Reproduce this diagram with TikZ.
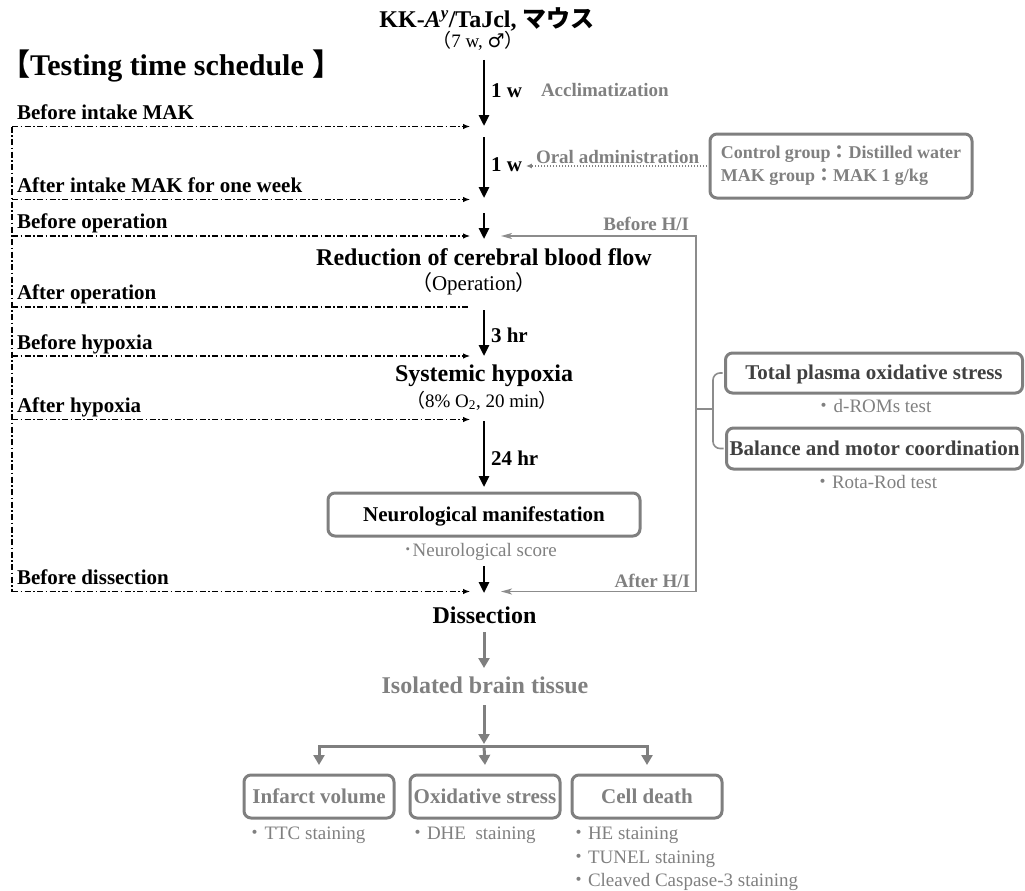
\documentclass[tikz,border=0pt]{standalone}
\usepackage{fontspec}
\setmainfont{Liberation Serif}
\newfontfamily\cjk{Noto Sans CJK JP}
\newfontfamily\symfont{DejaVu Sans}
\usetikzlibrary{arrows.meta}

\definecolor{boxgray}{RGB}{127,127,127}
\definecolor{txtgray}{RGB}{128,128,128}
\definecolor{linegray}{RGB}{140,140,140}
\definecolor{deepgray}{RGB}{64,64,64}

\newcommand{\fs}[2]{\fontsize{#1}{#2}\selectfont}

\tikzset{
  hitip/.tip={Stealth[length=11pt,width=6pt,inset=3pt]},
  gtip/.tip={Triangle[length=10pt,width=11pt]},
  every node/.style={inner sep=0pt, outer sep=0pt},
  lbl/.style={anchor=base west, font=\fs{21}{24}\bfseries},
  stage/.style={anchor=base, font=\fs{24}{28}\bfseries},
  dur/.style={anchor=base west, font=\fs{21}{24}\bfseries},
  gnote/.style={font=\fs{19}{22}\bfseries, text=txtgray},
  subnote/.style={font=\fs{19}{22}, text=txtgray},
  rbox/.style={draw=boxgray, line width=3pt, rounded corners=7pt,
    font=\fs{21}{24}\bfseries, text height=14pt, text depth=1pt},
  mainarrow/.style={line width=2.6pt, -{Triangle[length=11pt,width=10pt]}},
  timeline/.style={line width=1.1pt, dash pattern=on 6pt off 2.5pt on 1.5pt off 2.5pt},
  timearrow/.style={timeline, -{Latex[length=7pt,width=5.5pt]}},
  hiline/.style={draw=linegray, line width=1.6pt},
  gline/.style={draw=boxgray, line width=3pt},
  garrow/.style={gline, -{gtip}},
}

\begin{document}
\begin{tikzpicture}[x=1pt,y=-1pt]
\useasboundingbox (0,0) rectangle (1025,891);

% ---------- header ----------
\node[anchor=base, font=\fs{24}{28}\bfseries] (title) at (487,28)
  {KK-\textit{A}\textsuperscript{\textit{y}}/TaJcl, {\cjk\bfseries マウス}};
\node[anchor=base, font=\fs{19}{22}] (age) at (478,48)
  {{\cjk （}7 w, {\symfont ♂}{\cjk ）}};
\node[anchor=base west, font=\fs{30}{34}\bfseries] (sched) at (0,75)
  {{\cjk\bfseries 【}Testing time schedule\hspace{9pt}{\cjk\bfseries 】}};

% ---------- time points on the left ----------
\node[lbl] (l1) at (17,119)   {Before intake MAK};
\node[lbl] (l2) at (17,192)   {After intake MAK for one week};
\node[lbl] (l3) at (17,228.5) {Before operation};
\node[lbl] (l4) at (17,299.5) {After operation};
\node[lbl] (l5) at (17,349.5) {Before hypoxia};
\node[lbl] (l6) at (17,412.5) {After hypoxia};
\node[lbl] (l7) at (17,584.5) {Before dissection};

\foreach \n/\y in {1/126.5,2/199.5,3/236,4/307,5/356,6/419.5,7/591.5}{
  \coordinate (ts\n) at (12,\y);
  \coordinate (te\n) at (470,\y);
}
\draw[timeline] (ts1) -- (ts7);
\foreach \n in {1,2,3,5,6,7}{ \draw[timearrow] (ts\n) -- (te\n); }
\draw[timeline] (ts4) -- ([xshift=-2pt]te4);

% ---------- main time axis ----------
\coordinate (m1a) at (484,60);  \coordinate (m1b) at (484,126);
\coordinate (m2a) at (484,137); \coordinate (m2b) at (484,198);
\coordinate (m3a) at (484,213); \coordinate (m3b) at (484,239);
\coordinate (m4a) at (484,310); \coordinate (m4b) at (484,356);
\coordinate (m5a) at (484,421); \coordinate (m5b) at (484,487);
\coordinate (m6a) at (484,566); \coordinate (m6b) at (484,593);
\foreach \n in {1,...,6}{ \draw[mainarrow] (m\n a) -- (m\n b); }

\node[dur] (w1) at (491,97)    {1 w};
\node[dur] (w2) at (491,171.5) {1 w};
\node[dur] (h3) at (491,342)   {3 hr};
\node[dur] (h24) at (491,465)  {24 hr};

\node[gnote, anchor=base west] (accl) at (541,96) {Acclimatization};
\node[gnote, anchor=base west] (oral) at (536,163) {Oral administration};

\node[draw=boxgray, line width=3pt, rounded corners=7pt, minimum width=262pt,
      minimum height=64pt, align=left, font=\fs{18}{23}\bfseries, text=txtgray]
  (ctrl) at (841,166)
  {Control group{\cjk\bfseries ：}Distilled water\\MAK group{\cjk\bfseries ：}MAK 1 g/kg};
\draw[draw=txtgray, line width=1.6pt, dash pattern=on 1.5pt off 1.5pt,
      -{Latex[length=6pt,width=5pt]}]
  (ctrl.west) -- ([xshift=4pt]w2.east |- ctrl.west);

\node[stage] (red) at (484,265) {Reduction of cerebral blood flow};
\node[anchor=base, font=\fs{21}{24}] (oper) at (474,290) {{\cjk （}Operation{\cjk ）}};
\node[stage] (hyp) at (484,381) {Systemic hypoxia};
\node[anchor=base, font=\fs{19}{23}] (oxy) at (482,407)
  {{\cjk （}8\% O\textsubscript{2}, 20 min{\cjk ）}};

\node[rbox, minimum width=312pt, minimum height=43pt] (neuro) at (484,514.5)
  {Neurological manifestation};
\node[subnote, anchor=base] (nscore) at (480,556) {{\cjk ･}Neurological score};

\node[stage] (dis) at (484.5,623) {Dissection};

% ---------- H/I measurements ----------
\coordinate (hiIn1) at (501,236);   \coordinate (hiTop) at (696,236);
\coordinate (hiBot) at (696,591.5); \coordinate (hiIn2) at (501,591.5);
\coordinate (hiMid) at (696,409);   \coordinate (brace) at (713,409);
\draw[hiline, {hitip}-{hitip}] (hiIn1) -- (hiTop) -- (hiBot) -- (hiIn2);
\node[gnote, anchor=base east] (bhi) at (689,230)   {Before H/I};
\node[gnote, anchor=base east] (ahi) at (690,587.3) {After H/I};

\node[rbox, text=deepgray, minimum width=297pt, minimum height=40pt] (tpos) at (874,373)
  {Total plasma oxidative stress};
\node[rbox, text=deepgray, minimum width=296pt, minimum height=41pt] (bmc) at (874.5,448.5)
  {Balance and motor coordination};
\node[subnote, anchor=base] (drom) at (873,412.7) {{\cjk ・}d-ROMs test};
\node[subnote, anchor=base] (rota) at (875,488) {{\cjk ・}Rota-Rod test};

\draw[hiline] (hiMid) -- (brace);
\draw[hiline, rounded corners=7pt]
  ([xshift=-3pt]tpos.west) -| (brace) |- ([xshift=-3pt]bmc.west);

% ---------- brain tissue analysis ----------
\node[stage, text=txtgray] (iso) at (485,693) {Isolated brain tissue};
\coordinate (g1a) at (484,632); \coordinate (g1b) at (484,668);
\coordinate (g2a) at (484,705); \coordinate (g2b) at (484,744);
\coordinate (fork) at (484,746);
\draw[garrow] (g1a) -- (g1b);
\draw[garrow] (g2a) -- (g2b);

\node[rbox, text=txtgray, minimum width=150pt, minimum height=43pt] (inf)  at (319,796.5) {Infarct volume};
\node[rbox, text=txtgray, minimum width=150pt, minimum height=43pt] (oxs)  at (485,796.5) {Oxidative stress};
\node[rbox, text=txtgray, minimum width=150pt, minimum height=43pt] (cell) at (647,796.5) {Cell death};

\draw[gline, {gtip}-{gtip}] ([yshift=10pt]inf.north) |- (fork -| cell.north)
  -- ([yshift=10pt]cell.north);
\draw[garrow] (fork) -- ([yshift=10pt]oxs.north);

\node[subnote, anchor=base west] (ttc)   at (245.5,839.3) {{\cjk ・}TTC staining};
\node[subnote, anchor=base west] (dhe)   at (408,839.3)   {{\cjk ・}DHE\ \ staining};
\node[subnote, anchor=base west] (hes)   at (569,839.3)   {{\cjk ・}HE staining};
\node[subnote, anchor=base west] (tunel) at (569,863.3)   {{\cjk ・}TUNEL staining};
\node[subnote, anchor=base west] (casp)  at (569,886)     {{\cjk ・}Cleaved Caspase-3 staining};
\end{tikzpicture}
\end{document}
